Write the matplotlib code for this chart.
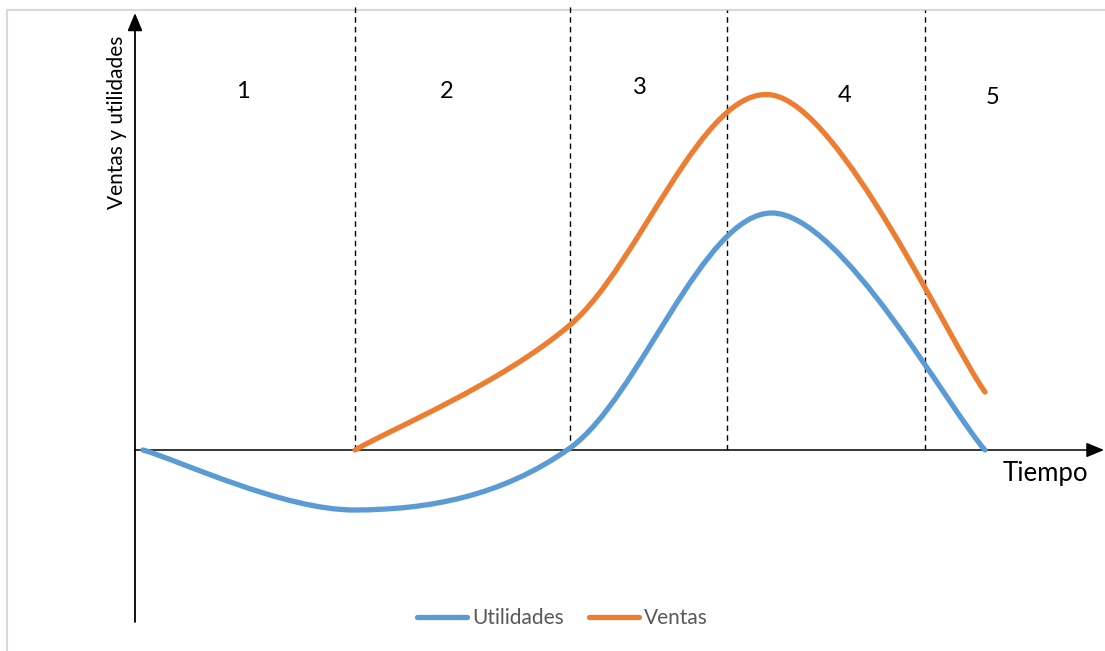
import matplotlib
matplotlib.use("Agg")
import matplotlib.pyplot as plt
from matplotlib.path import Path
from matplotlib.patches import PathPatch, Rectangle
from matplotlib.lines import Line2D
import numpy as np

# ---- data (x = tiempo, y = ventas/utilidades, arbitrary units) ----
util_x = [8, 220, 435, 637, 850]
util_y = [0, -60, 2, 237, 0]

vent_x = [220, 435, 637, 850]
vent_y = [0, 125, 355, 58]

phase_bounds = [220, 435, 592, 790]
phase_labels = ["1", "2", "3", "4", "5"]
phase_label_x = [108, 312, 505, 710, 858]
phase_label_y = [358, 358, 362, 355, 353]

BLUE = "#5B9BD5"
ORANGE = "#ED7D31"

plt.rcParams['font.family'] = ['Lato', 'DejaVu Sans']

fig = plt.figure(figsize=(11.05, 6.51), dpi=100)
ax = fig.add_axes([0, 0, 1, 1])
ax.set_xlim(-135, 970)
ax.set_ylim(-201, 450)
ax.axis('off')

# light chart-area border
ax.add_patch(Rectangle((-128, -260), 1200, 700, fill=False, edgecolor="#D9D9D9", lw=1.5, zorder=0))


def smooth_path(xs, ys):
    P = np.column_stack([xs, ys]).astype(float)
    n = len(P)
    verts = [P[0]]
    codes = [Path.MOVETO]
    for i in range(n - 1):
        p0 = P[i - 1] if i > 0 else P[i]
        p1 = P[i]
        p2 = P[i + 1]
        p3 = P[i + 2] if i + 2 < n else P[i + 1]
        c1 = p1 + (p2 - p0) / 6.0
        c2 = p2 - (p3 - p1) / 6.0
        verts += [c1, c2, p2]
        codes += [Path.CURVE4] * 3
    return Path(verts, codes)


# dashed phase boundaries
for i, b in enumerate(phase_bounds):
    top = 446 if i < 2 else 440
    ax.plot([b, b], [0, top], color="black", lw=1.0, ls=(0, (4, 3)), zorder=1)

# axes with arrows
ax.annotate('', xy=(0, 437), xytext=(0, -172),
            arrowprops=dict(arrowstyle='-|>,head_length=0.6,head_width=0.25',
                            color='black', lw=1.3, mutation_scale=18, shrinkA=0, shrinkB=0), zorder=2)
ax.annotate('', xy=(969, 0), xytext=(0, 0),
            arrowprops=dict(arrowstyle='-|>,head_length=0.6,head_width=0.25',
                            color='black', lw=1.1, mutation_scale=18, shrinkA=0, shrinkB=0), zorder=2)

# curves
for xs, ys, col in [(util_x, util_y, BLUE), (vent_x, vent_y, ORANGE)]:
    ax.add_patch(PathPatch(smooth_path(xs, ys), facecolor='none', edgecolor=col,
                           lw=3.8, capstyle='round', joinstyle='round', zorder=3))

# phase labels
for lab, x, y in zip(phase_labels, phase_label_x, phase_label_y):
    ax.text(x, y, lab, fontsize=17, ha='center', va='center', color='black')

ax.text(910, -23, "Tiempo", fontsize=18.5, ha='center', va='center', color='black')
ax.text(-18, 328, "Ventas y utilidades", fontsize=15, rotation=90,
        ha='center', va='center', color='black')

handles = [Line2D([], [], color=BLUE, lw=3.8, solid_capstyle='round'),
           Line2D([], [], color=ORANGE, lw=3.8, solid_capstyle='round')]
fig.legend(handles, ["Utilidades", "Ventas"], loc='center', bbox_to_anchor=(0.509, 0.051),
           ncol=2, frameon=False, fontsize=15, handlelength=2.4, handletextpad=0.25,
           columnspacing=1.2, labelcolor="#595959")

fig.savefig("out.png", dpi=100)
